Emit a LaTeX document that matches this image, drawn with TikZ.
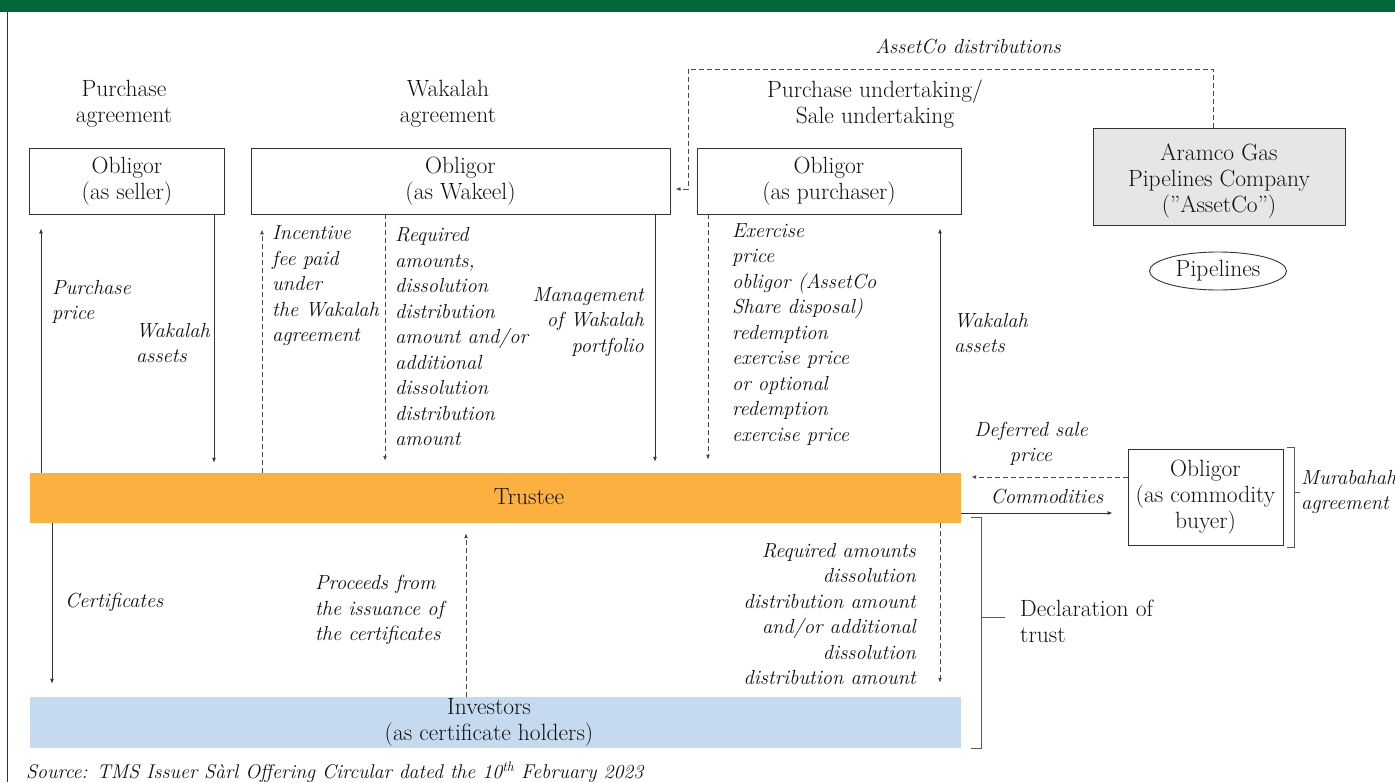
\documentclass[tikz,border=0pt]{standalone}
\usepackage{fontspec}
\usetikzlibrary{arrows.meta,shapes.geometric}
\definecolor{topgreen}{HTML}{006838}
\definecolor{trorange}{HTML}{FBB040}
\definecolor{invblue}{HTML}{C6DAEF}
\definecolor{boxgray}{HTML}{E6E6E6}
\definecolor{linecol}{HTML}{333333}
\definecolor{dashcol}{HTML}{4A4A4A}
\definecolor{brackcol}{HTML}{5A5A5A}
\definecolor{textcol}{HTML}{111111}
\newcommand{\dfont}{\fontsize{23.5}{26}\selectfont}
\newcommand{\ifont}{\fontsize{20.4}{25.5}\selectfont\itshape}
\tikzset{
  box/.style={draw=linecol, line width=0.9pt, fill=white, align=center, inner sep=0pt, font=\dfont, text=textcol},
  txt/.style={inner sep=0pt, font=\dfont, text=textcol},
  lbl/.style={inner sep=0pt, font=\ifont, text=textcol},
  sarrow/.style={draw=linecol, line width=0.9pt, -{Latex[length=5pt,width=4pt]}},
  darrow/.style={draw=dashcol, line width=0.9pt, dash pattern=on 5pt off 3pt, -{Latex[length=5pt,width=4pt]}},
  brk/.style={draw=brackcol, line width=1pt},
  bar/.style={inner sep=0pt, minimum width=931pt},
}
\begin{document}
\begin{tikzpicture}[x=1pt,y=-1pt]
\useasboundingbox (0,0) rectangle (1395,782);
% frame
\fill[topgreen] (0,0) rectangle (1395,12);
\draw[linecol, line width=0.9pt] (7,12) -- (7,782);

% boxes
\node[box, minimum width=195pt, minimum height=66pt] (seller) at (127,181) {Obligor\\(as seller)};
\node[box, minimum width=419pt, minimum height=66pt] (wakeel) at (460.5,181) {Obligor\\(as Wakeel)};
\node[box, minimum width=264pt, minimum height=66pt] (purch) at (829,181) {Obligor\\(as purchaser)};
\node[box, fill=boxgray, minimum width=252pt, minimum height=97pt] (assetco) at (1219,177) {};
\node[txt, align=center] (assetcotxt) at (1219,181) {Aramco Gas\\Pipelines Company\\(''AssetCo'')};
\node[draw=linecol, line width=0.9pt, ellipse, minimum width=137pt, minimum height=38pt, inner sep=0pt, font=\dfont, text=textcol] (pipe) at (1218,271) {Pipelines};
\node[box, minimum width=155pt, minimum height=96pt] (buyer) at (1205.5,497) {Obligor\\(as commodity\\buyer)};

\node[bar, fill=trorange, minimum height=50pt] (trustee) at (495.5,498) {};
\node[txt] (trtxt) at (529,497) {Trustee};
\node[bar, fill=invblue, minimum height=51pt] (inv) at (495.5,722.5) {};
\node[txt, align=center] (invtxt) at (489,722) {Investors\\(as certificate holders)};

% agreement titles
\node[txt, align=center] (lpa) at (124,104) {Purchase\\agreement};
\node[txt, align=center] (lwa) at (448,104) {Wakalah\\agreement};
\node[txt, align=center] (lpu) at (875,104) {Purchase undertaking/\\Sale undertaking};
\node[lbl] (lad) at (968,46) {AssetCo distributions};

% x positions of connectors
\coordinate (xPP) at (41,0);
\coordinate (xWA) at (214,0);
\coordinate (xIF) at (262,0);
\coordinate (xRA) at (385,0);
\coordinate (xMW) at (655,0);
\coordinate (xEP) at (708,0);
\coordinate (xWB) at (940,0);
\coordinate (xCE) at (52,0);
\coordinate (xPR) at (466,0);
\coordinate (xAD) at (1213,0);
\coordinate (xAL) at (688,0);
\coordinate (yTop) at (0,69);
\coordinate (yArr) at (0,189);
\coordinate (yDS) at (0,477);
\coordinate (yCM) at (0,513);

% connectors
\draw[sarrow, shorten >=14pt] (trustee.north -| xPP) -- (seller.south -| xPP);
\draw[sarrow, shorten >=10pt] (seller.south -| xWA) -- (trustee.north -| xWA);
\draw[darrow, shorten >=15pt] (trustee.north -| xIF) -- (wakeel.south -| xIF);
\draw[darrow, shorten >=12pt] (wakeel.south -| xRA) -- (trustee.north -| xRA);
\draw[sarrow, shorten >=11pt] (wakeel.south -| xMW) -- (trustee.north -| xMW);
\draw[darrow, shorten >=13pt] (purch.south -| xEP) -- (trustee.north -| xEP);
\draw[sarrow, shorten >=14pt] (trustee.north -| xWB) -- (purch.south -| xWB);
\draw[sarrow, shorten >=13pt] (trustee.south -| xCE) -- (inv.north -| xCE);
\draw[darrow, shorten >=10pt] (inv.north -| xPR) -- (trustee.south -| xPR);
\draw[darrow, shorten >=14pt] (trustee.south -| xWB) -- (inv.north -| xWB);
\draw[darrow, shorten >=10pt] (buyer.west |- yDS) -- (trustee.east |- yDS);
\draw[sarrow, shorten >=15pt] (trustee.east |- yCM) -- (buyer.west |- yCM);
\draw[darrow, shorten >=5pt] (assetco.north -| xAD) -- (xAD |- yTop) -- (xAL |- yTop) -- (xAL |- yArr) -- (wakeel.east |- yArr);

% brackets
\draw[brk] (1287,447) -- (1294,447) -- (1294,547) -- (1287,547);
\draw[brk] (1294,492) -- (1300,492);
\draw[brk] (971,517) -- (981,517) -- (981,748) -- (971,748);
\draw[brk] (981,617) -- (1005,617);

% labels
\node[lbl, align=left, anchor=west] (l1) at (52,302) {Purchase\\price};
\node[lbl, align=left, anchor=west] (l2) at (136,343) {Wakalah\\assets};
\node[lbl, align=left, anchor=west] (l3) at (272,286) {Incentive\\fee paid\\under\\the Wakalah\\agreement};
\node[lbl, align=left, anchor=west] (l4) at (395,337) {Required\\amounts,\\dissolution\\distribution\\amount and/or\\additional\\dissolution\\distribution\\amount};
\node[lbl, align=right, anchor=east] (l5) at (644,322) {Management\\of Wakalah\\portfolio};
\node[lbl, align=left, anchor=west] (l6) at (732,334.5) {Exercise\\price\\obligor (AssetCo\\Share disposal)\\redemption\\exercise price\\or optional\\redemption\\exercise price};
\node[lbl, align=left, anchor=west] (l7) at (954,333) {Wakalah\\assets};
\node[lbl, align=center] (l8) at (1031,444) {Deferred sale\\price};
\node[lbl] (l9) at (1047,497) {Commodities};
\node[lbl, align=left, anchor=west] (l10) at (1301,492) {Murabahah\\agreement};
\node[lbl, anchor=west] (l11) at (65,602) {Certificates};
\node[lbl, align=left, anchor=west] (l12) at (315,610) {Proceeds from\\the issuance of\\the certificates};
\node[lbl, align=right, anchor=east] (l13) at (916,614) {Required amounts\\dissolution\\distribution amount\\and/or additional\\dissolution\\distribution amount};
\node[txt, align=left, anchor=west] (l14) at (1020,621) {Declaration of\\trust};
\node[lbl, anchor=west, font=\fontsize{19.9}{24}\selectfont\itshape] (src) at (26,772) {Source: TMS Issuer Sàrl Offering Circular dated the 10\textsuperscript{th} February 2023};
\end{tikzpicture}
\end{document}
